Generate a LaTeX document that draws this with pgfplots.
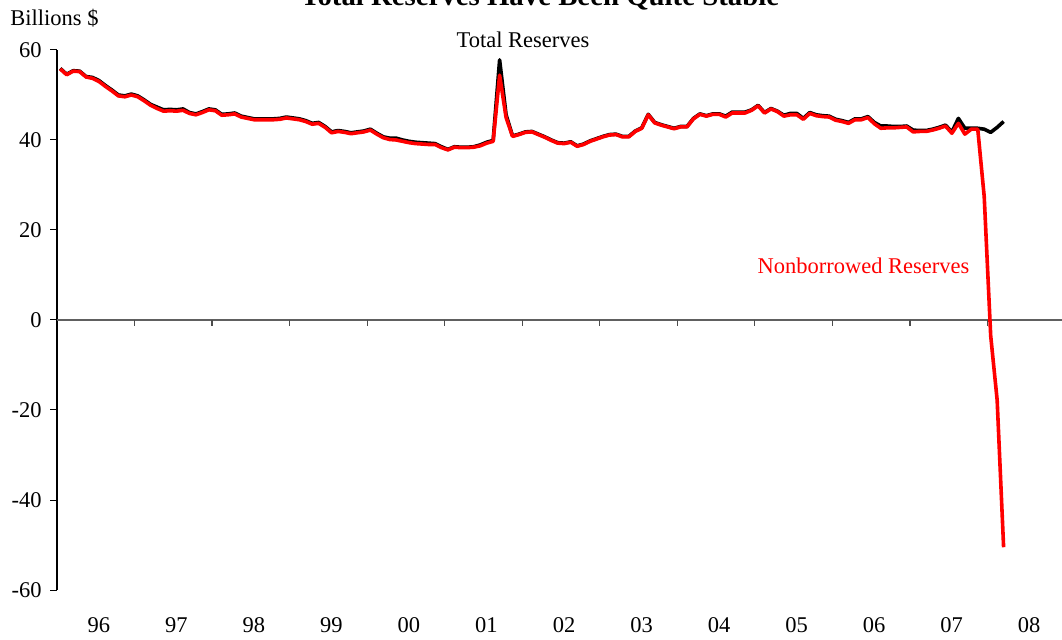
\documentclass[border=0pt]{standalone}
\usepackage{fontspec}
\setmainfont{Liberation Serif}
\usepackage{pgfplots}
\pgfplotsset{compat=1.18}
\usepackage{pgfplotstable}

% monthly reserves, billions of dollars
\pgfplotstableread{
year month total nonbor
1996 1 55.9 55.8
1996 2 54.6 54.5
1996 3 55.4 55.3
1996 4 55.3 55.2
1996 5 54.1 54.0
1996 6 53.9 53.7
1996 7 53.2 53.0
1996 8 52.1 51.9
1996 9 51.1 50.9
1996 10 50.0 49.8
1996 11 49.8 49.6
1996 12 50.2 50.0
1997 1 49.8 49.6
1997 2 48.9 48.7
1997 3 47.9 47.7
1997 4 47.3 47.0
1997 5 46.7 46.4
1997 6 46.8 46.5
1997 7 46.7 46.4
1997 8 46.9 46.6
1997 9 46.1 45.9
1997 10 45.8 45.6
1997 11 46.3 46.1
1997 12 46.9 46.7
1998 1 46.7 46.5
1998 2 45.7 45.5
1998 3 45.8 45.6
1998 4 46.0 45.8
1998 5 45.3 45.1
1998 6 45.0 44.8
1998 7 44.7 44.5
1998 8 44.7 44.5
1998 9 44.7 44.5
1998 10 44.7 44.5
1998 11 44.8 44.6
1998 12 45.1 44.9
1999 1 44.9 44.7
1999 2 44.7 44.5
1999 3 44.3 44.1
1999 4 43.7 43.5
1999 5 43.9 43.7
1999 6 43.0 42.8
1999 7 41.8 41.6
1999 8 42.1 41.9
1999 9 41.9 41.7
1999 10 41.6 41.4
1999 11 41.8 41.6
1999 12 42.0 41.8
2000 1 42.4 42.2
2000 2 41.5 41.3
2000 3 40.7 40.5
2000 4 40.4 40.1
2000 5 40.4 40.0
2000 6 40.0 39.7
2000 7 39.7 39.4
2000 8 39.5 39.2
2000 9 39.4 39.1
2000 10 39.3 39.0
2000 11 39.2 39.0
2000 12 38.5 38.3
2001 1 37.9 37.8
2001 2 38.5 38.4
2001 3 38.4 38.3
2001 4 38.4 38.3
2001 5 38.5 38.4
2001 6 38.9 38.7
2001 7 39.5 39.3
2001 8 39.9 39.7
2001 9 57.8 54.4
2001 10 45.6 45.0
2001 11 40.9 40.8
2001 12 41.3 41.2
2002 1 41.8 41.7
2002 2 41.9 41.8
2002 3 41.3 41.2
2002 4 40.7 40.6
2002 5 40.0 39.9
2002 6 39.4 39.3
2002 7 39.3 39.2
2002 8 39.6 39.5
2002 9 38.7 38.6
2002 10 39.1 39.0
2002 11 39.8 39.7
2002 12 40.3 40.2
2003 1 40.8 40.7
2003 2 41.2 41.1
2003 3 41.3 41.2
2003 4 40.8 40.7
2003 5 40.8 40.7
2003 6 42.0 41.9
2003 7 42.7 42.6
2003 8 45.7 45.6
2003 9 43.9 43.8
2003 10 43.4 43.3
2003 11 43.0 42.9
2003 12 42.6 42.5
2004 1 43.0 42.9
2004 2 43.0 42.9
2004 3 44.8 44.7
2004 4 45.8 45.7
2004 5 45.4 45.3
2004 6 45.8 45.7
2004 7 45.8 45.7
2004 8 45.3 45.1
2004 9 46.2 46.0
2004 10 46.2 46.0
2004 11 46.2 46.0
2004 12 46.7 46.6
2005 1 47.7 47.6
2005 2 46.1 46.0
2005 3 47.0 46.9
2005 4 46.4 46.3
2005 5 45.5 45.3
2005 6 45.9 45.6
2005 7 45.9 45.6
2005 8 44.8 44.6
2005 9 46.1 45.9
2005 10 45.6 45.4
2005 11 45.4 45.2
2005 12 45.3 45.1
2006 1 44.6 44.4
2006 2 44.3 44.1
2006 3 43.9 43.7
2006 4 44.7 44.5
2006 5 44.7 44.5
2006 6 45.2 45.0
2006 7 43.9 43.6
2006 8 43.1 42.6
2006 9 43.1 42.7
2006 10 43.0 42.7
2006 11 43.0 42.8
2006 12 43.1 42.9
2007 1 42.2 41.8
2007 2 42.1 41.9
2007 3 42.1 41.9
2007 4 42.4 42.2
2007 5 42.8 42.6
2007 6 43.3 43.1
2007 7 41.8 41.5
2007 8 44.8 43.7
2007 9 42.6 41.3
2007 10 42.6 42.4
2007 11 42.6 42.4
2007 12 42.4 27.4
2008 1 41.7 -3.5
2008 2 42.8 -17.8
2008 3 44.1 -50.5
}\reserves

\newcommand{\txt}{\fontsize{11.25}{13.5}\selectfont}

\begin{document}
\begin{tikzpicture}
\begin{axis}[
    at={(0,0)}, anchor=south west,
    scale only axis,
    width=504pt, height=270pt,
    xmin=1996, xmax=2009,
    ymin=-60, ymax=60,
    axis y line*=left,
    axis x line*=bottom,
    x axis line style={draw=none},
    xtick={1996.5,1997.5,1998.5,1999.5,2000.5,2001.5,2002.5,2003.5,2004.5,2005.5,2006.5,2007.5,2008.5},
    xticklabels={96,97,98,99,00,01,02,03,04,05,06,07,08},
    xtick style={draw=none},
    ytick={-60,-40,-20,0,20,40,60},
    yticklabels={-60,-40,-20,0,20,40,60},
    ytick align=outside,
    major tick length=3.5pt,
    ytick style={black, line width=0.5pt},
    y axis line style={black, line width=0.6pt},
    every tick label/.append style={font=\txt, text=black},
    yticklabel style={anchor=east, inner sep=0pt, xshift=-4pt},
    xticklabel style={anchor=base, inner sep=0pt, yshift=-21pt, xshift=1.5pt},
]
\draw[gray!75!black, line width=0.6pt] (axis cs:1996,0) -- (axis cs:2009,0);
\pgfplotsinvokeforeach{1997,...,2008}{
  \draw[gray!60!black, line width=0.6pt] (axis cs:#1,0) -- ++(0pt,-3pt);
}
\addplot[black, line width=1.8pt, line join=round, no markers]
  table[x expr=\thisrow{year}+(\thisrow{month}-0.5)/12, y=total]{\reserves};
\addplot[red, line width=1.8pt, line join=round, no markers]
  table[x expr=\thisrow{year}+(\thisrow{month}-0.5)/12, y=nonbor]{\reserves};
\end{axis}
\node[anchor=base west, inner sep=0pt, font=\txt] at (-23.5pt,282.5pt) {Billions \$};
\node[anchor=base, inner sep=0pt, font=\txt] at (233pt,271.5pt) {Total Reserves};
\node[anchor=base, inner sep=0pt, font=\txt, text=red] at (403.25pt,158.5pt) {Nonborrowed Reserves};
\node[anchor=base, inner sep=0pt, font=\fontsize{14.4}{17}\selectfont\bfseries] at (241.5pt,292.5pt) {Total Reserves Have Been Quite Stable};
\pgfresetboundingbox
\useasboundingbox (-28.5pt,-24.5pt) rectangle (502.5pt,295pt);
\end{tikzpicture}
\end{document}
